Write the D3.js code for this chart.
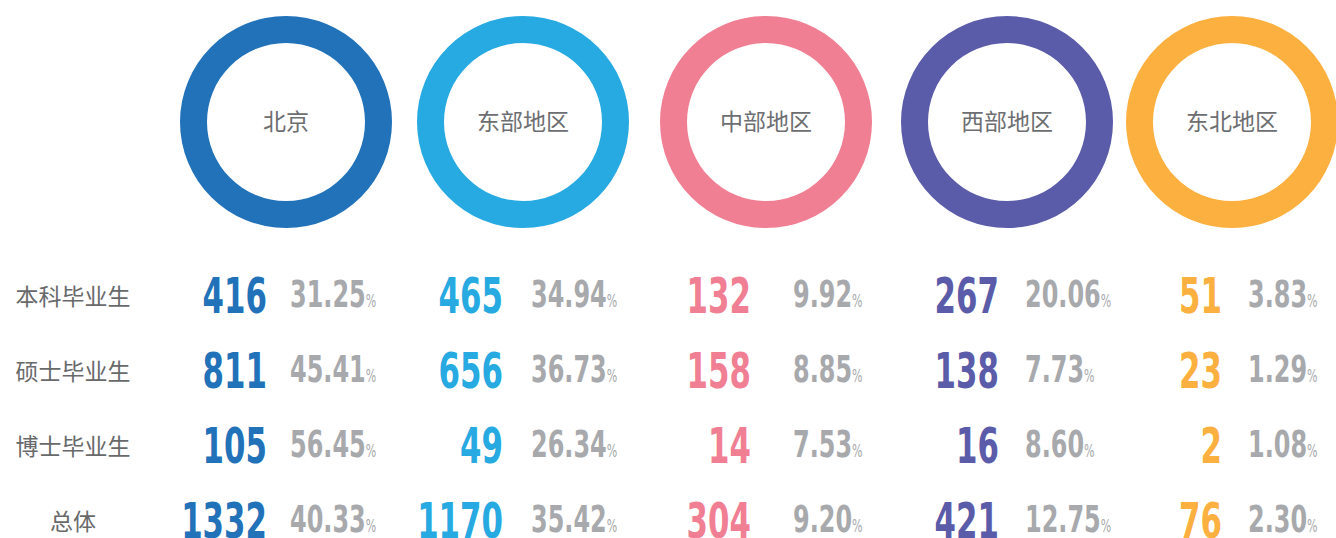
<!DOCTYPE html>
<html>
<head>
<meta charset="utf-8">
<title>Graduates by region</title>
<script type="text/javascript" src="https://cdnjs.cloudflare.com/ajax/libs/d3/7.8.5/d3.min.js"></script>
<style>
  html, body { margin: 0; padding: 0; background: #fff; overflow: hidden; }
</style>
</head>
<body>
<script type="text/javascript">

// data
var regions = ["北京", "东部地区", "中部地区", "西部地区", "东北地区"]
var groups = ["本科毕业生", "硕士毕业生", "博士毕业生", "总体"]

var beijing   = [416, 811, 105, 1332]
var east      = [465, 656, 49, 1170]
var central   = [132, 158, 14, 304]
var west      = [267, 138, 16, 421]
var northeast = [51, 23, 2, 76]

var beijingPct   = [31.25, 45.41, 56.45, 40.33]
var eastPct      = [34.94, 36.73, 26.34, 35.42]
var centralPct   = [9.92, 8.85, 7.53, 9.20]
var westPct      = [20.06, 7.73, 8.60, 12.75]
var northeastPct = [3.83, 1.29, 1.08, 2.30]

var counts = [beijing, east, central, west, northeast]
var pcts = [beijingPct, eastPct, centralPct, westPct, northeastPct]

var colours = ["#2272b9", "#27aae1", "#f17f94", "#5b5ca9", "#fbb040"]

var w = 1336,
    h = 538

var svg = d3.select("body").append("svg")
    .attr("width", w)
    .attr("height", h)

// layout: ring centres, number right edges, percent left edges
var xScale = d3.scaleOrdinal()
    .domain(regions)
    .range([286, 523, 766, 1007, 1232])

var numRight = d3.scaleOrdinal()
    .domain(regions)
    .range([267, 503, 751, 999, 1222])

var pctLeft = d3.scaleOrdinal()
    .domain(regions)
    .range([290, 531, 793, 1025, 1248])

var yScale = d3.scalePoint()
    .domain(groups)
    .range([313, 538])

var colour = d3.scaleOrdinal()
    .domain(regions)
    .range(colours)

// no condensed web font offline, so squeeze a bold face horizontally
var numFont = "'Liberation Sans Narrow', 'DejaVu Sans Condensed', 'Arial Narrow', sans-serif"
var cjkFont = "'Noto Sans CJK SC', 'Noto Sans', sans-serif"

// rings on top
var ring = d3.arc()
    .innerRadius(79)
    .outerRadius(106)
    .startAngle(0)
    .endAngle(2 * Math.PI)

var heads = svg.selectAll("g.head")
    .data(regions)
    .enter()
    .append("g")
    .attr("class", "head")
    .attr("transform", function(d){
        return "translate(" + xScale(d) + ",122)"
    })

heads.append("path")
    .attr("d", ring)
    .style("fill", function(d){ return colour(d) })

heads.append("text")
    .attr("text-anchor", "middle")
    .attr("dy", "0.35em")
    .style("font-family", cjkFont)
    .style("font-size", "23px")
    .style("fill", "#6d6e71")
    .text(function(d){ return d })

// row labels
svg.selectAll("text.rowlabel")
    .data(groups)
    .enter()
    .append("text")
    .attr("class", "rowlabel")
    .attr("x", 73)
    .attr("y", function(d){ return yScale(d) - 16 })
    .attr("dy", "0.35em")
    .attr("text-anchor", "middle")
    .style("font-family", cjkFont)
    .style("font-size", "23px")
    .style("fill", "#68696b")
    .text(function(d){ return d })

// one cell per region x group
var cells = []
regions.forEach(function(r, i){
    groups.forEach(function(g, j){
        cells.push({region: r, group: g, n: counts[i][j], p: pcts[i][j]})
    })
})

var cell = svg.selectAll("g.cell")
    .data(cells)
    .enter()
    .append("g")
    .attr("class", "cell")
    .attr("transform", function(d){
        return "translate(0," + yScale(d.group) + ")"
    })

cell.append("text")
    .attr("transform", function(d){
        return "translate(" + numRight(d.region) + ",0) scale(0.7,1)"
    })
    .attr("text-anchor", "end")
    .style("font-family", numFont)
    .style("font-weight", "bold")
    .style("font-size", "49px")
    .style("fill", function(d){ return colour(d.region) })
    .text(function(d){ return d.n })

var pct = cell.append("text")
    .attr("transform", function(d){
        return "translate(" + pctLeft(d.region) + ",-6) scale(0.72,1)"
    })
    .style("font-family", numFont)
    .style("font-weight", "bold")
    .style("font-size", "37px")
    .style("fill", "#a7a9ac")

pct.append("tspan")
    .text(function(d){ return d.p.toFixed(2) })

pct.append("tspan")
    .style("font-weight", "normal")
    .style("font-size", "17px")
    .text("%")

</script>
</body>
</html>
